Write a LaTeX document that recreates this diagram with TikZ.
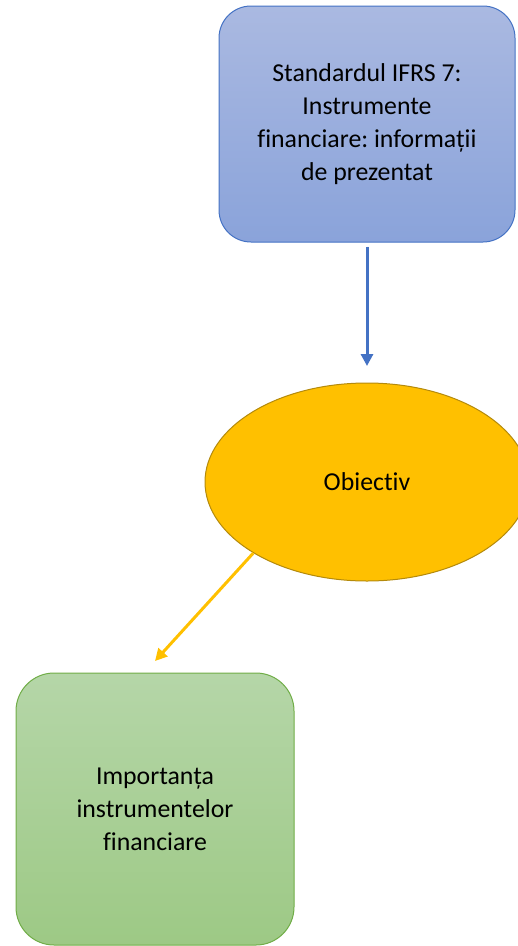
\documentclass[tikz,border=0pt]{standalone}
\usepackage{fontspec}
\setmainfont{Carlito}[Ligatures=NoCommon]
\usetikzlibrary{shapes.geometric,arrows.meta}
\frenchspacing
\definecolor{bluetop}{HTML}{AAB9E1}
\definecolor{bluebot}{HTML}{8AA3DA}
\definecolor{blueline}{HTML}{4472C4}
\definecolor{gold}{HTML}{FFC000}
\definecolor{goldline}{HTML}{B48A0C}
\definecolor{greentop}{HTML}{B5D6A8}
\definecolor{greenbot}{HTML}{9DC985}
\definecolor{greenline}{HTML}{70AD47}
\tikzset{
  boxtext/.style={font=\fontsize{25.8}{33}\selectfont, align=center, text=black},
  bluebox/.style={boxtext, draw=blueline, line width=1pt, rounded corners=32pt,
    top color=bluetop, bottom color=bluebot, minimum width=296pt, minimum height=236pt, inner sep=0pt},
  greenbox/.style={boxtext, draw=greenline, line width=1pt, rounded corners=38pt,
    top color=greentop, bottom color=greenbot, minimum width=278pt, minimum height=272pt, inner sep=0pt},
  goldell/.style={boxtext, ellipse, draw=goldline, line width=1pt, fill=gold,
    minimum width=324pt, minimum height=198pt, inner sep=0pt},
  conn/.style={line width=3pt, -{Triangle[length=12pt,width=12pt]}},
}
\begin{document}
\begin{tikzpicture}[x=1pt,y=-1pt]
\useasboundingbox (0,0) rectangle (518,946);
\begin{scope}
\clip (0,0) rectangle (518,946);
\node[bluebox] (std) at (367,124) {Standardul IFRS 7:\\Instrumente\\financiare: informații\\de prezentat};
\node[goldell] (obj) at (367,482) {Obiectiv};
\node[greenbox] (imp) at (155,809) {Importanța\\instrumentelor\\financiare};
\coordinate (bluetip) at (367,366);
\coordinate (goldtip) at (155,661);
\draw[conn, draw=blueline, fill=blueline] (std.south) ++(0,4) -- (bluetip);
\draw[conn, draw=gold, fill=gold] (obj.-148) -- (goldtip);
\end{scope}
\end{tikzpicture}
\end{document}
